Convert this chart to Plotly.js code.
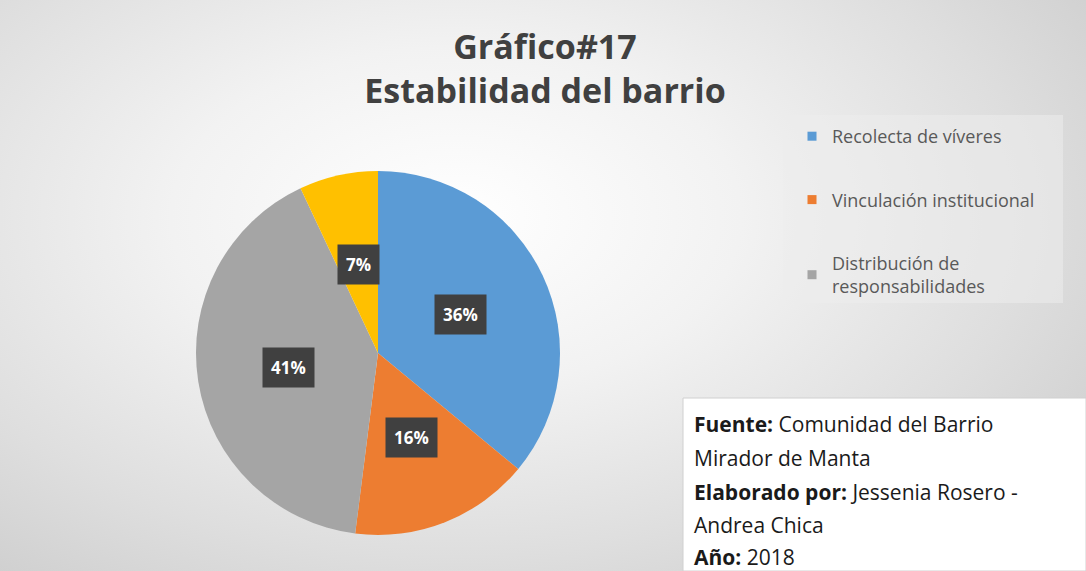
<!DOCTYPE html>
<html>
<head>
<meta charset="utf-8">
<script src="https://cdn.plot.ly/plotly-3.0.1.min.js"></script>
<style>
  html, body { margin:0; padding:0; }
  #chart { width:1086px; height:571px;
    background: radial-gradient(ellipse 75% 85% at 42% 38%, #ffffff 0%, #f2f2f2 35%, #dedede 70%, #cbcbcb 100%); }
</style>
</head>
<body>
<div id="chart"></div>
<script>
// ---- data ----
const categories = ["Recolecta de víveres", "Vinculación institucional", "Distribución de responsabilidades", "Otros"];
const legendLabels = ["Recolecta de víveres", "Vinculación institucional", "Distribución de<br>responsabilidades"];
const values = [36, 16, 41, 7];
const colors = ["#5B9BD5", "#ED7D31", "#A5A5A5", "#FFC000"];
const titleText = "Gráfico#17<br>Estabilidad del barrio";
const sourceLines = [
  ["Fuente:", " Comunidad del Barrio"],
  ["", "Mirador de Manta"],
  ["Elaborado por:", " Jessenia Rosero -"],
  ["", "Andrea Chica"],
  ["Año:", " 2018"]
];

// ---- geometry ----
const W = 1086, H = 571;
const cxPx = 378, cyPx = 353, rPx = 182;
const px2x = p => p / W;
const px2y = p => 1 - p / H;

const total = values.reduce((a, b) => a + b, 0);

const traces = [{
  type: "pie",
  labels: categories,
  values: values,
  sort: false,
  direction: "clockwise",
  rotation: 0,
  marker: { colors: colors, line: { width: 0 } },
  textinfo: "none",
  hoverinfo: "label+percent",
  showlegend: false,
  domain: { x: [px2x(cxPx - rPx), px2x(cxPx + rPx)], y: [px2y(cyPx + rPx), px2y(cyPx - rPx)] }
}];

legendLabels.forEach((lab, i) => {
  traces.push({
    type: "scatter", mode: "markers", x: [null], y: [null],
    name: lab, legendgroup: "g" + i,
    marker: { symbol: "square", size: 9, color: colors[i] },
    hoverinfo: "skip", showlegend: true
  });
});

// data labels (positions computed from values)
const annotations = [];
let cum = 0;
values.forEach((v, i) => {
  const midFrac = (cum + v / 2) / total;
  cum += v;
  const ang = Math.PI / 2 - midFrac * 2 * Math.PI;
  const d = rPx * 0.5;
  const xp = cxPx + d * Math.cos(ang);
  const yp = cyPx - d * Math.sin(ang);
  annotations.push({
    x: px2x(xp), y: px2y(yp), xref: "paper", yref: "paper",
    xanchor: "center", yanchor: "middle",
    text: "<b>" + Math.round(v / total * 100) + "%</b>",
    showarrow: false, bgcolor: "#404040", borderpad: 8,
    font: { family: "Open Sans, sans-serif", size: 17, color: "#ffffff" }
  });
});

// source text box
const lineY = [424, 458, 492, 525, 557];
sourceLines.forEach((ln, i) => {
  annotations.push({
    x: px2x(692), y: px2y(lineY[i]), xref: "paper", yref: "paper",
    xanchor: "left", yanchor: "middle", showarrow: false, align: "left",
    text: (ln[0] ? "<b>" + ln[0] + "</b>" : "") + ln[1],
    font: { family: "Open Sans, sans-serif", size: 21, color: "#1a1a1a" }
  });
});

const layout = {
  width: W, height: H,
  margin: { l: 0, r: 0, t: 0, b: 0 },
  paper_bgcolor: "rgba(0,0,0,0)",
  plot_bgcolor: "rgba(0,0,0,0)",
  title: {
    text: titleText,
    x: px2x(545), xanchor: "center", xref: "paper",
    y: px2y(59), yanchor: "top", yref: "paper",
    font: { family: "Open Sans, sans-serif", size: 34, color: "#404040", weight: "bold" }
  },
  xaxis: { visible: false, domain: [0.99, 1] },
  yaxis: { visible: false, domain: [0.99, 1] },
  showlegend: true,
  legend: {
    x: px2x(792), xanchor: "left",
    y: px2y(118), yanchor: "top",
    bgcolor: "rgba(0,0,0,0)",
    font: { family: "Open Sans, sans-serif", size: 18, color: "#595959" },
    traceorder: "grouped", tracegroupgap: 37,
    itemclick: false, itemdoubleclick: false
  },
  shapes: [
    { type: "rect", xref: "paper", yref: "paper", layer: "below",
      x0: px2x(783), x1: px2x(1063), y0: px2y(303), y1: px2y(115),
      fillcolor: "rgba(236,236,236,0.55)", line: { width: 0 } },
    { type: "rect", xref: "paper", yref: "paper", layer: "above",
      x0: px2x(683), x1: px2x(1086), y0: px2y(571), y1: px2y(398),
      fillcolor: "#ffffff", line: { color: "#d0d0d0", width: 1 } }
  ],
  annotations: annotations
};

Plotly.newPlot("chart", traces, layout, { displayModeBar: false });
</script>
</body>
</html>
